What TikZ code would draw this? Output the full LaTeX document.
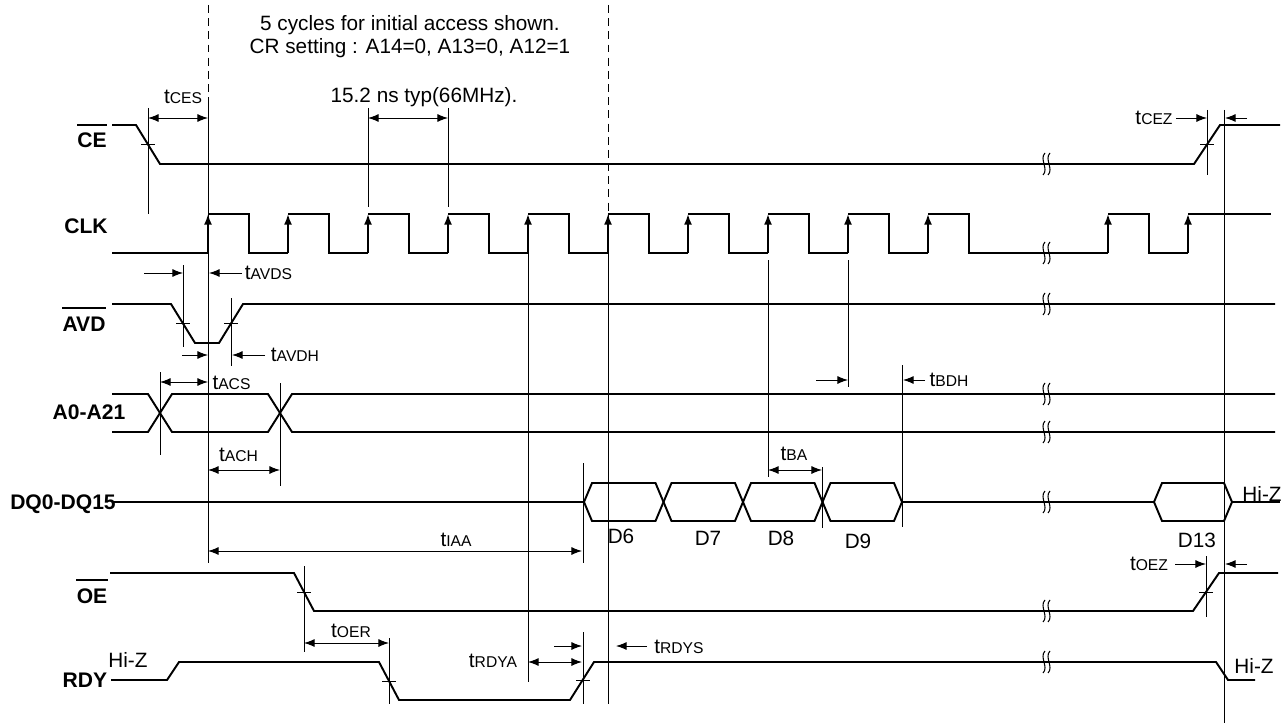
\documentclass[tikz,border=0pt]{standalone}
\usepackage{fontspec}
\setmainfont{Liberation Sans}
\setsansfont{Liberation Sans}
\usetikzlibrary{arrows.meta}
\newcommand{\tsym}[1]{t{\fontsize{8.9}{10}\selectfont #1}}
\newcommand{\brkmark}[2]{%
  \foreach \d in {0,5}{\draw[line width=0.6pt] (#1+\d+1,#2-11) .. controls (#1+\d-5,#2-5) and (#1+\d+5,#2+5) .. (#1+\d-1,#2+11);}}
\begin{document}
\begin{tikzpicture}[x=0.02cm, y=-0.02cm,
        sig/.style={line width=1.1pt},
        guide/.style={line width=0.5pt},
        dim/.style={guide, <->},
        tick/.style={guide},
        txt/.style={anchor=base, inner sep=0pt},
        lbl/.style={anchor=base, inner sep=0pt, font=\fontsize{12}{14}\selectfont\bfseries},
        bar/.style={line width=1.4pt},
        >={Latex[length=6pt,width=4.5pt]},
        font=\fontsize{11.8}{14}\selectfont
    ]
        \useasboundingbox (0,0) rectangle (1288,723);

        % Signal names
        \node[lbl] (ce) at (92,148) {CE};
        \node[lbl] (clk) at (86,233) {CLK};
        \node[lbl] (avd) at (84,331) {AVD};
        \node[lbl] (addr) at (89,419) {A0-A21};
        \node[lbl] (dq) at (63,509) {DQ0-DQ15};
        \node[lbl] (oe) at (92,603) {OE};
        \node[lbl] (rdy) at (85,687) {RDY};
        \draw[bar] ([yshift=4.5pt]ce.north west) -- ([yshift=4.5pt]ce.north east);
        \draw[bar] ([yshift=4.5pt]avd.north west) -- ([yshift=4.5pt]avd.north east);
        \draw[bar] ([yshift=4.5pt]oe.north west) -- ([yshift=4.5pt]oe.north east);

        % Notes
        \node[txt] (note1) at (410,31) {5 cycles for initial access shown.};
        \node[txt] (note2) at (410,54) {CR setting : A14=0, A13=0, A12=1};
        \node[txt] (period) at (424,103) {15.2 ns typ(66MHz).};

        % Reference lines
        \draw[guide, dash pattern=on 4.5pt off 3pt] (208,5) -- (208,105);
        \draw[guide, dash pattern=on 4.5pt off 3pt] (608,5) -- (608,212);
        \draw[guide] (208,105) -- (208,563);
        \draw[guide] (608,214) -- (608,704);
        \draw[guide] (148,108) -- (148,214);
        \draw[guide] (368,108) -- (368,207);
        \draw[guide] (448,108) -- (448,207);
        \draw[guide] (528,253) -- (528,682);
        \draw[guide] (183,265) -- (183,347);
        \draw[guide] (231,298) -- (231,366);
        \draw[guide] (160,372) -- (160,455);
        \draw[guide] (280,383) -- (280,486);
        \draw[guide] (583,463) -- (583,563);
        \draw[guide] (583,632) -- (583,704);
        \draw[guide] (768,260) -- (768,477);
        \draw[guide] (848,260) -- (848,387);
        \draw[guide] (902,365) -- (902,527);
        \draw[guide] (822.5,467) -- (822.5,528);
        \draw[guide] (304,566) -- (304,652);
        \draw[guide] (389,638) -- (389,704);
        \draw[guide] (1206,556) -- (1206,617);
        \draw[guide] (1207,110) -- (1207,175);
        \draw[guide] (1224,110) -- (1224,723);

        % CE
        \draw[sig] (112,125) -- (136,125) -- (160,164) -- (1194,164) -- (1220,125) -- (1280,125);
        \draw[tick] (141,144.5) -- (155,144.5);
        \draw[tick] (1200,144.5) -- (1214,144.5);
        \brkmark{1044}{164}

        % CLK
        \draw[sig] (112,253) -- (208,253);
        \foreach \x in {208,288,...,848}
            \draw[sig] (\x,214) -- (\x+41,214) -- (\x+41,253) -- (\x+80,253);
        \draw[sig] (928,214) -- (969,214) -- (969,253) -- (1108,253);
        \draw[sig] (1108,214) -- (1149,214) -- (1149,253) -- (1188,253);
        \draw[sig] (1188,214) -- (1271,214);
        \foreach \x in {208,288,...,928}
            \draw[sig,->] (\x,253) -- (\x,214);
        \foreach \x in {1108,1188}
            \draw[sig,->] (\x,253) -- (\x,214);
        \brkmark{1044}{253}

        % AVD
        \draw[sig] (112,304) -- (171,304) -- (195,343) -- (219,343) -- (243,304) -- (1275,304);
        \draw[tick] (176,323.5) -- (190,323.5);
        \draw[tick] (224,323.5) -- (238,323.5);
        \brkmark{1044}{304}

        % Address
        \draw[sig] (112,394) -- (148,394) -- (172,432) -- (268,432) -- (292,394) -- (1275,394);
        \draw[sig] (112,432) -- (148,432) -- (172,394) -- (268,394) -- (292,432) -- (1275,432);
        \brkmark{1044}{394}
        \brkmark{1044}{432}

        % Data
        \draw[sig] (112,502) -- (584,502);
        \foreach \a/\b in {584/663.5, 663.5/743, 743/822.5, 822.5/902, 1154/1232}
            \draw[sig] (\a,502) -- (\a+8,483) -- (\b-8,483) -- (\b,502) -- (\b-8,521) -- (\a+8,521) -- cycle;
        \draw[sig] (902,502) -- (1154,502);
        \draw[sig] (1232,502) -- (1280,502);
        \brkmark{1044}{502}
        \node[txt] (d6) at (621,543) {D6};
        \node[txt] (d7) at (708,545) {D7};
        \node[txt] (d8) at (781,545) {D8};
        \node[txt] (d9) at (858,548) {D9};
        \node[txt] (d13) at (1197,547) {D13};
        \node[txt] (hiz1) at (1262,501) {Hi-Z};

        % OE
        \draw[sig] (110,573) -- (294,573) -- (314,611) -- (1193,611) -- (1219,573) -- (1278,573);
        \draw[tick] (297,592) -- (311,592);
        \draw[tick] (1199,592) -- (1213,592);
        \brkmark{1044}{611}

        % RDY
        \draw[sig] (111,680) -- (167,680) -- (179,662) -- (379,662) -- (399,700) -- (570,700) -- (594,662) -- (1216,662) -- (1228,680) -- (1255,680);
        \draw[tick] (382,681) -- (396,681);
        \draw[tick] (576,680) -- (590,680);
        \brkmark{1044}{662}
        \node[txt] (hiz2) at (128,667) {Hi-Z};
        \node[txt] (hiz3) at (1254,673) {Hi-Z};

        % Timing parameters
        \draw[dim] (148,118) -- (208,118);
        \node[txt] (tces) at (183,104) {\tsym{CES}};
        \draw[dim] (368,118) -- (448,118);
        \draw[guide,->] (1176,118) -- (1207,118);
        \draw[guide,->] (1247,118) -- (1225,118);
        \node[txt] (tcez) at (1154,125) {\tsym{CEZ}};
        \draw[guide,->] (144,273) -- (183,273);
        \draw[guide,->] (242,273) -- (209,273);
        \node[txt] (tavds) at (268.5,279) {\tsym{AVDS}};
        \draw[guide,->] (182,355) -- (208,355);
        \draw[guide,->] (265,355) -- (232,355);
        \node[txt] (tavdh) at (295,361) {\tsym{AVDH}};
        \draw[dim] (160,382) -- (208,382);
        \node[txt] (tacs) at (231.5,389) {\tsym{ACS}};
        \draw[dim] (208,470) -- (280,470);
        \node[txt] (tach) at (238.5,461) {\tsym{ACH}};
        \draw[guide,->] (816,380) -- (848,380);
        \draw[guide,->] (925,380) -- (903,380);
        \node[txt] (tbdh) at (949,386) {\tsym{BDH}};
        \draw[dim] (768,470) -- (822,470);
        \node[txt] (tba) at (794,460) {\tsym{BA}};
        \draw[dim] (208,551) -- (582,551);
        \node[txt] (tiaa) at (456,546) {\tsym{IAA}};
        \draw[dim] (304,643) -- (389,643);
        \node[txt] (toer) at (351,637) {\tsym{OER}};
        \draw[guide,->] (1175,564) -- (1206,564);
        \draw[guide,->] (1247,564) -- (1225,564);
        \node[txt] (toez) at (1149,570) {\tsym{OEZ}};
        \draw[dim] (528,662) -- (582,662);
        \node[txt] (trdya) at (493,667) {\tsym{RDYA}};
        \draw[guide,->] (554,646) -- (582,646);
        \draw[guide,->] (647,646) -- (616,646);
        \node[txt] (trdys) at (679,653) {\tsym{RDYS}};
    \end{tikzpicture}
\end{document}
